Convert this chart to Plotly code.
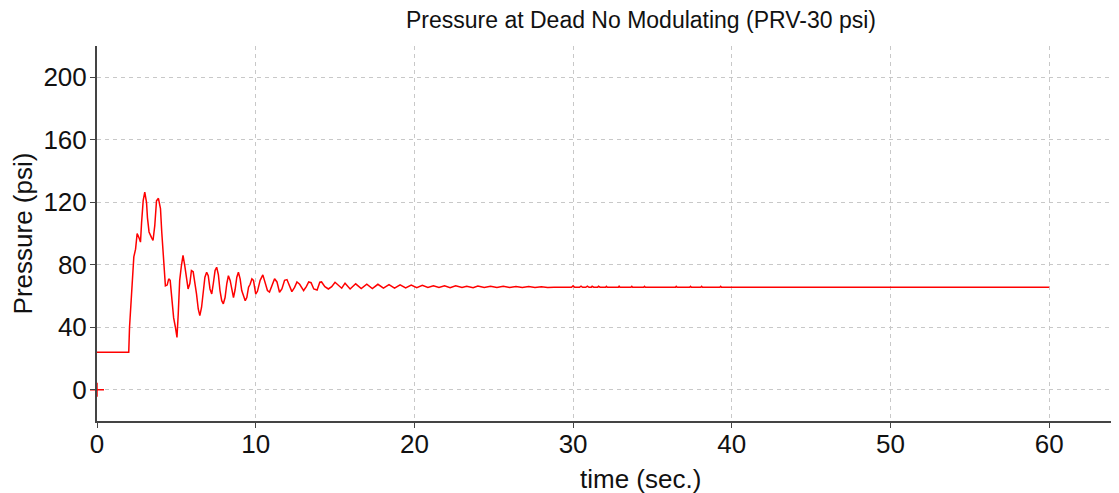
import plotly.graph_objects as go

# ---- data ----
time_s = [
    0.0, 2.0, 2.05, 2.18, 2.24, 2.32, 2.43, 2.53, 2.66, 2.74, 2.81, 2.91, 3.01, 3.12, 3.18,
    3.28, 3.43, 3.53, 3.64, 3.75, 3.87, 4.0, 4.08, 4.16, 4.22, 4.31, 4.42, 4.52, 4.61, 4.73,
    4.83, 4.94, 5.04, 5.12, 5.21, 5.32, 5.42, 5.53, 5.64, 5.74, 5.85, 5.95, 6.06, 6.17, 6.27,
    6.38, 6.48, 6.59, 6.69, 6.8, 6.91, 7.01, 7.12, 7.23, 7.33, 7.44, 7.54, 7.65, 7.75, 7.86,
    7.96, 8.07, 8.18, 8.28, 8.39, 8.49, 8.6, 8.7, 8.81, 8.91, 9.02, 9.12, 9.34, 9.44, 9.55,
    9.65, 9.76, 9.86, 10.0, 10.11, 10.28, 10.45, 10.6, 10.74, 10.87, 11.02, 11.19, 11.34, 11.5,
    11.65, 11.82, 11.97, 12.13, 12.28, 12.45, 12.6, 12.77, 12.92, 13.02, 13.19, 13.34, 13.49,
    13.66, 13.87, 14.04, 14.15, 14.36, 14.58, 14.79, 15.0, 15.21, 15.42, 15.63, 15.95, 16.3,
    16.65, 17.0, 17.35, 17.7, 18.05, 18.4, 18.75, 19.1, 19.45, 19.8, 20.15, 20.5, 20.85, 21.2,
    21.55, 21.9, 22.25, 22.6, 23.0, 23.3, 23.7, 24.0, 24.4, 24.8, 25.2, 25.6, 26.0, 26.4, 26.8,
    27.2, 27.6, 28.0, 28.4, 28.8, 29.9, 30.0, 30.1, 30.4, 30.5, 30.6, 30.8, 30.9, 31.0, 31.15,
    31.2, 31.3, 31.55, 31.6, 31.7, 32.05, 32.1, 32.15, 32.85, 32.9, 32.95, 33.65, 33.7, 33.75,
    34.45, 34.5, 34.55, 36.45, 36.5, 36.55, 37.35, 37.4, 37.45, 38.05, 38.1, 38.15, 39.25,
    39.3, 39.35, 60.0,
]
pressure_psi = [
    24.0, 24.0, 40.0, 62.0, 76.0, 85.0, 90.0, 100.0, 97.0, 94.5, 107.0, 121.0, 126.5, 120.0, 110.0,
    101.0, 97.5, 95.5, 105.0, 121.0, 122.5, 116.0, 101.0, 87.0, 75.0, 66.5, 67.0, 71.0, 70.0, 58.0,
    46.0, 40.0, 33.5, 48.6, 70.0, 79.5, 86.0, 79.5, 72.0, 64.5, 68.0, 76.3, 75.5, 68.8, 61.3,
    51.7, 47.4, 52.8, 63.5, 72.0, 75.2, 73.0, 64.5, 61.3, 68.0, 76.3, 78.4, 73.5, 63.5, 57.0,
    55.0, 59.0, 68.0, 73.0, 70.0, 63.5, 59.0, 64.0, 72.0, 75.2, 71.0, 63.5, 57.0, 59.0, 65.6,
    67.5, 71.0, 70.0, 61.3, 63.0, 70.0, 73.5, 68.0, 63.5, 62.5, 66.0, 71.0, 69.0, 62.4,
    64.5, 70.0, 70.5, 66.0, 62.8, 65.5, 69.0, 67.5, 64.5, 63.5, 66.0, 69.0, 68.5,
    64.5, 63.8, 68.8, 69.0, 66.0, 64.5, 66.0, 68.8, 67.0, 65.0, 68.2, 64.5, 67.8,
    64.8, 67.6, 64.8, 67.5, 65.0, 67.3, 65.0, 67.2, 65.2, 67.0, 65.3, 66.8, 65.4, 66.6,
    65.5, 66.5, 65.3, 66.6, 65.4, 66.3, 65.3, 66.4, 65.5, 66.3, 65.4, 66.2, 65.5, 66.1, 65.4,
    66.0, 65.5, 65.9, 65.5, 65.6, 65.6, 66.5, 65.6, 65.6, 66.3, 65.6, 65.6, 66.3, 65.6, 65.6,
    66.2, 65.6, 65.6, 66.2, 65.6, 65.6, 66.2, 65.6, 65.6, 66.3, 65.6, 65.6, 66.2, 65.6,
    65.6, 66.2, 65.6, 65.6, 66.2, 65.6, 65.6, 66.2, 65.6, 65.6, 66.2, 65.6, 65.6,
    66.2, 65.6, 65.6,
]
start_marker_t = [0.0]
start_marker_p = [0.0]

x_ticks = [0, 10, 20, 30, 40, 50, 60]
y_ticks = [0, 40, 80, 120, 160, 200]

title_text = "Pressure at Dead No Modulating (PRV-30 psi)"
x_title = "time (sec.)"
y_title = "Pressure (psi)"

FONT = "Liberation Sans, Arial, sans-serif"
AXIS_COLOR = "#444444"
GRID_COLOR = "#c8c8c8"

# page body has an 8px margin: the figure is sized to fill the rest of the window
OFF = 8
W, H = 1119 - OFF, 493 - OFF
plot_left, plot_top, plot_bottom = 97 - OFF, 46 - OFF, 420.7 - OFF
plot_h = plot_bottom - plot_top

fig = go.Figure()
fig.add_trace(go.Scatter(
    x=time_s, y=pressure_psi, mode="lines",
    line=dict(color="#ff0000", width=1.5), showlegend=False, hoverinfo="x+y",
))
fig.add_trace(go.Scatter(
    x=start_marker_t, y=start_marker_p, mode="markers", cliponaxis=False,
    marker=dict(symbol="cross-thin", size=10, line=dict(color="#ff0000", width=1.5)),
    showlegend=False,
))

fig.update_layout(
    width=W, height=H,
    margin=dict(l=plot_left, r=0, t=plot_top, b=H - plot_bottom),
    paper_bgcolor="white", plot_bgcolor="white",
    font=dict(family=FONT, color="#111111"),
    title=dict(text=title_text, x=(641 - OFF) / W, xanchor="center", xref="container",
               y=1 - (20 - OFF) / H, yanchor="middle", yref="container",
               font=dict(size=23, family=FONT, color="#111111")),
    annotations=[dict(text=x_title, xref="paper", yref="paper",
                      x=(640 - 97) / (W - plot_left), y=-(479 - 420.7) / plot_h,
                      xanchor="center", yanchor="middle", showarrow=False,
                      font=dict(size=26, family=FONT, color="#111111"))],
)
fig.update_xaxes(
    range=[0, 64.4], tickvals=x_ticks, ticktext=[str(v) for v in x_ticks],
    showline=True, linecolor=AXIS_COLOR, linewidth=2,
    ticks="outside", ticklen=5, tickcolor=AXIS_COLOR, tickwidth=1,
    tickfont=dict(size=26, family=FONT, color="#111111"), ticklabelstandoff=-6,
    showgrid=True, gridcolor=GRID_COLOR, gridwidth=1, griddash="4px,4px",
    zeroline=False, fixedrange=True,
)
fig.update_yaxes(
    range=[-20, 220], tickvals=y_ticks, ticktext=[str(v) for v in y_ticks],
    showline=True, linecolor=AXIS_COLOR, linewidth=2,
    ticks="outside", ticklen=5, tickcolor=AXIS_COLOR, tickwidth=1,
    tickfont=dict(size=26, family=FONT, color="#111111"), ticklabelstandoff=-2,
    showgrid=True, gridcolor=GRID_COLOR, gridwidth=1, griddash="4px,4px",
    zeroline=False, fixedrange=True,
    title=dict(text=y_title, font=dict(size=26, family=FONT, color="#111111"), standoff=4),
)

fig.write_html("out.html")
